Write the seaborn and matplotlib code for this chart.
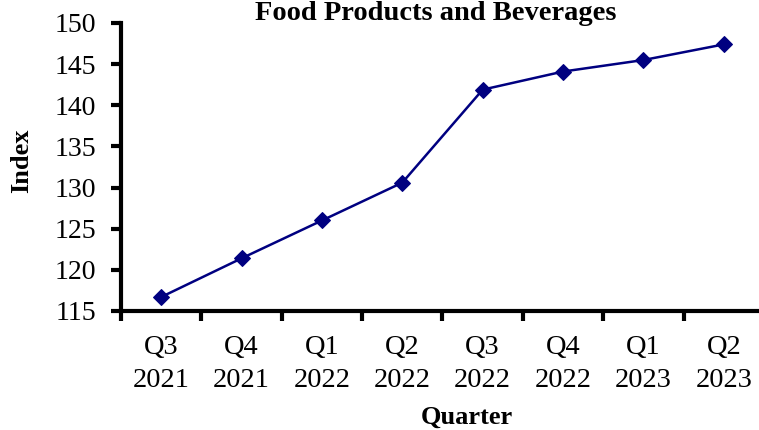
import matplotlib
matplotlib.use("Agg")
import matplotlib.pyplot as plt
import seaborn as sns
import pandas as pd
import numpy as np

quarters = ["Q3\n2021", "Q4\n2021", "Q1\n2022", "Q2\n2022", "Q3\n2022", "Q4\n2022", "Q1\n2023", "Q2\n2023"]
index_values = [116.7, 121.4, 126.0, 130.6, 141.9, 144.1, 145.5, 147.4]

df = pd.DataFrame({"Quarter": quarters, "Index": index_values})
df["pos"] = np.arange(len(df))

sns.set_style("white")
plt.rcParams["font.family"] = ["Liberation Serif", "DejaVu Serif"]
plt.rcParams["text.color"] = "black"
plt.rcParams["axes.labelcolor"] = "black"
plt.rcParams["xtick.color"] = "black"
plt.rcParams["ytick.color"] = "black"

fig = plt.figure(figsize=(7.59, 4.30), dpi=100)
ax = fig.add_axes([121/759, 1 - 311/430, 643/759, 288/430])

sns.lineplot(data=df, x="pos", y="Index", ax=ax, color="#000080", linewidth=1.8,
             marker="D", markersize=8.5, markeredgecolor="#000080")

ax.set_xlim(-0.5, 7.5)
ax.set_ylim(115, 150)
ax.set_yticks(np.arange(115, 151, 5))
ax.set_xticks(df["pos"])
ax.set_xticklabels(quarters)
ax.set_xticks(np.arange(-0.5, 7.6, 1), minor=True)
ax.tick_params(axis="x", which="major", bottom=True, length=0, pad=17, labelsize=20.5, labelcolor="black")
ax.tick_params(axis="x", which="minor", bottom=True, length=7, width=3, direction="out", color="black")
ax.tick_params(axis="y", which="major", left=True, length=7, width=3, direction="out",
               labelsize=20, pad=11, color="black", labelcolor="black")
for lbl in ax.get_xticklabels():
    lbl.set_linespacing(1.45)

for s in ["top", "right"]:
    ax.spines[s].set_visible(False)
for s in ["left", "bottom"]:
    ax.spines[s].set_linewidth(3)
    ax.spines[s].set_color("black")

fig.text(436/759, 1 - 14/430, "Food Products and Beverages", fontsize=20.5, fontweight="bold",
         ha="center", va="center", color="black")
ax.set_xlabel("Quarter", fontsize=19, fontweight="bold", color="black", va="center")
ax.set_ylabel("Index", fontsize=19, fontweight="bold", color="black", va="center")
ax.xaxis.set_label_coords((467 - 121) / 643, (311 - 417) / 288)
ax.yaxis.set_label_coords((22 - 121) / 643, (311 - 161) / 288)

fig.savefig("out.png", dpi=100)
